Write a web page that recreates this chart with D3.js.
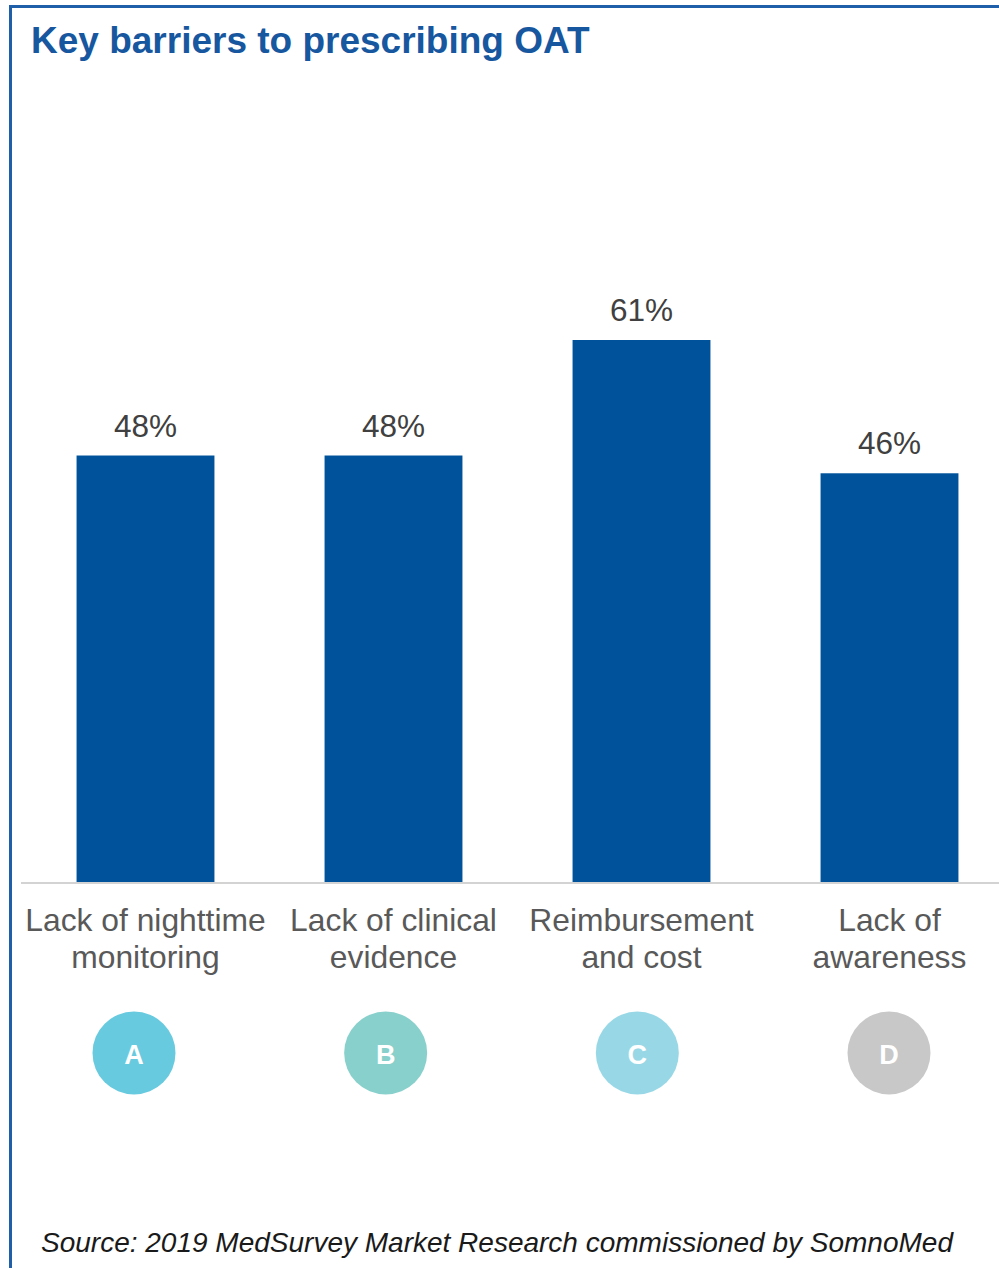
<!DOCTYPE html>
<html>
<head>
<meta charset="utf-8">
<script src="https://cdn.jsdelivr.net/npm/d3@7"></script>
<style>
  html, body { margin: 0; padding: 0; background: #fff; }
  svg { display: block; font-family: "Liberation Sans", Arial, sans-serif; }
</style>
</head>
<body>
<svg id="chart"></svg>
<script>
const width = 999;
const height = 1268;

// data
const categories = ["Lack of nighttime|monitoring", "Lack of clinical|evidence", "Reimbursement|and cost", "Lack of|awareness"];
const values = [48, 48, 61, 46];
const letters = ["A", "B", "C", "D"];
const letterColors = ["#67cadf", "#88d0cb", "#98d8e6", "#c8c8c8"];

const baseline = 882;

const svg = d3.select("svg#chart")
  .attr("width", width)
  .attr("height", height);

// frame: top and left blue rules
svg.append("rect")
  .attr("x", 9).attr("y", 5)
  .attr("width", width - 9).attr("height", 3)
  .style("fill", "#1f5ea8");
svg.append("rect")
  .attr("x", 9).attr("y", 5)
  .attr("width", 3).attr("height", height - 5)
  .style("fill", "#1f5ea8");

svg.append("text")
  .attr("x", 31)
  .attr("y", 53)
  .style("font-size", "37px")
  .style("font-weight", "bold")
  .style("fill", "#1757a0")
  .text("Key barriers to prescribing OAT");

let xScale = d3.scaleBand()
  .domain(categories)
  .range([21.5, 1013.5])
  .paddingInner(0.444)
  .paddingOuter(0.222);

let yScale = d3.scaleLinear()
  .domain([0, 61])
  .range([baseline, 340]);

svg.selectAll("rect.bar")
  .data(values)
  .enter()
  .append("rect")
  .attr("class", "bar")
  .attr("x", (d, i) => xScale(categories[i]))
  .attr("y", d => yScale(d))
  .attr("width", xScale.bandwidth())
  .attr("height", d => baseline - yScale(d))
  .style("fill", "#00539b");

svg.selectAll("text.value")
  .data(values)
  .enter()
  .append("text")
  .attr("class", "value")
  .attr("x", (d, i) => xScale(categories[i]) + xScale.bandwidth() / 2)
  .attr("y", d => yScale(d) - 19)
  .attr("text-anchor", "middle")
  .style("font-size", "31.5px")
  .style("fill", "#404040")
  .text(d => d + "%");

// baseline axis, no ticks
let xAxis = d3.axisBottom(xScale).tickSize(0).tickFormat("");
let axisG = svg.append("g")
  .attr("transform", "translate(0, " + (baseline + 1) + ")")
  .call(xAxis);
axisG.select(".domain")
  .attr("d", "M21,0H999")
  .style("stroke", "#d3d3d3")
  .style("stroke-width", 2);

// category labels (two lines)
let catLabels = svg.selectAll("text.cat")
  .data(categories)
  .enter()
  .append("text")
  .attr("class", "cat")
  .attr("text-anchor", "middle")
  .style("font-size", "31.8px")
  .style("fill", "#595959");
catLabels.each(function(d) {
  let lines = d.split("|");
  let cx = xScale(d) + xScale.bandwidth() / 2;
  lines.forEach((line, j) => {
    d3.select(this).append("tspan")
      .attr("x", cx)
      .attr("y", 931 + j * 37)
      .text(line);
  });
});

// letter circles
let cScale = d3.scalePoint()
  .domain(letters)
  .range([134, 889]);

svg.selectAll("circle")
  .data(letters)
  .enter()
  .append("circle")
  .attr("cx", d => cScale(d))
  .attr("cy", 1053)
  .attr("r", 41.5)
  .style("fill", (d, i) => letterColors[i]);

svg.selectAll("text.letter")
  .data(letters)
  .enter()
  .append("text")
  .attr("class", "letter")
  .attr("x", d => cScale(d))
  .attr("y", 1063.5)
  .attr("text-anchor", "middle")
  .style("font-size", "27px")
  .style("font-weight", "bold")
  .style("fill", "#ffffff")
  .text(d => d);

svg.append("text")
  .attr("x", 41)
  .attr("y", 1252)
  .style("font-size", "28px")
  .style("font-style", "italic")
  .style("fill", "#1a1a1a")
  .text("Source: 2019 MedSurvey Market Research commissioned by SomnoMed");
</script>
</body>
</html>
